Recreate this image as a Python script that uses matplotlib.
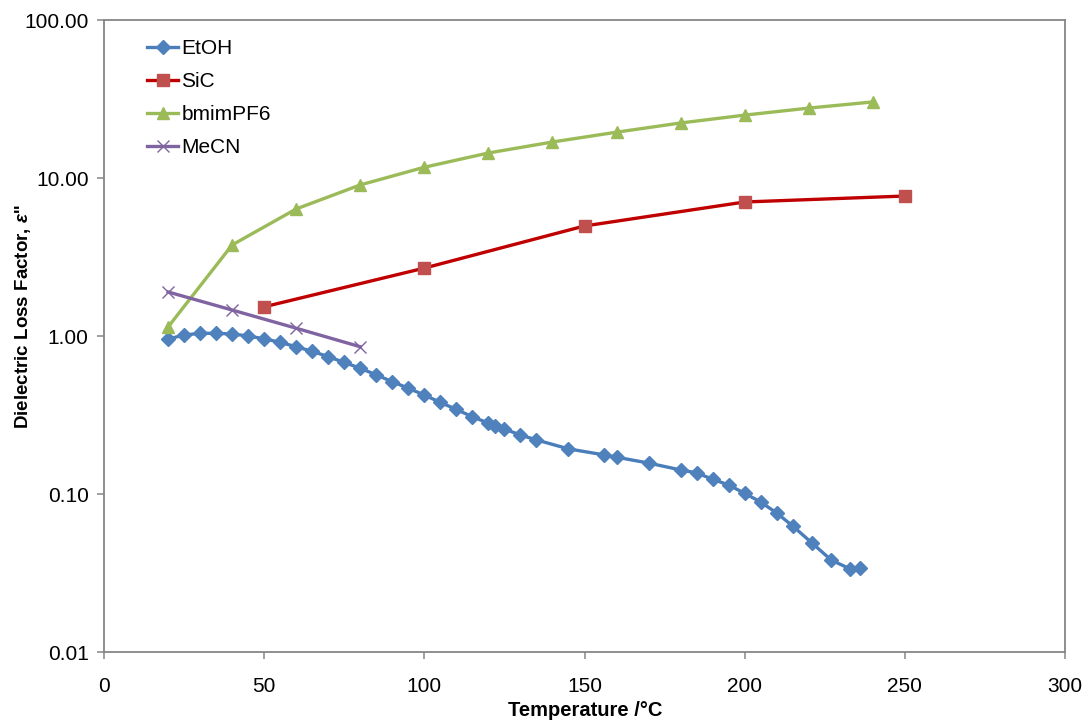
import matplotlib
matplotlib.use("Agg")
import matplotlib.pyplot as plt
from matplotlib.ticker import FixedLocator, NullLocator, FixedFormatter

plt.rcParams['font.family'] = ['Liberation Sans', 'DejaVu Sans']
plt.rcParams['mathtext.fontset'] = 'custom'
plt.rcParams['mathtext.it'] = 'Liberation Sans:italic:bold'

etoh_t = [20, 25, 30, 35, 40, 45, 50, 55, 60, 65, 70, 75, 80, 85, 90, 95, 100, 105,
          110, 115, 120, 122, 125, 130, 135, 145, 156, 160, 170, 180, 185, 190, 195,
          200, 205, 210, 215, 221, 227, 233, 236]
etoh_v = [0.957, 1.014, 1.04, 1.04, 1.03, 1.0, 0.96, 0.912, 0.855, 0.80, 0.74, 0.68,
          0.625, 0.567, 0.514, 0.467, 0.423, 0.38, 0.343, 0.308, 0.281, 0.269, 0.258,
          0.236, 0.220, 0.193, 0.177, 0.171, 0.157, 0.142, 0.136, 0.124, 0.114, 0.101,
          0.089, 0.0758, 0.0627, 0.049, 0.0382, 0.0335, 0.034]

sic_t = [50, 100, 150, 200, 250]
sic_v = [1.53, 2.69, 4.97, 7.05, 7.69]

bmim_t = [20, 40, 60, 80, 100, 120, 140, 160, 180, 200, 220, 240]
bmim_v = [1.14, 3.77, 6.37, 9.04, 11.7, 14.4, 16.9, 19.5, 22.3, 25.0, 27.7, 30.3]

mecn_t = [20, 40, 60, 80]
mecn_v = [1.90, 1.46, 1.12, 0.855]

y_ticks = [0.01, 0.1, 1, 10, 100]
y_tick_labels = ['0.01', '0.10', '1.00', '10.00', '100.00']
x_ticks = [0, 50, 100, 150, 200, 250, 300]

W, H = 1084, 726
fig = plt.figure(figsize=(W/100, H/100), dpi=100)
ax = fig.add_axes([104/W, 1 - 652/H, (1065-104)/W, (652-20)/H])

ax.plot(etoh_t, etoh_v, color='#4A7EBB', lw=2.4, marker='D', ms=7,
        mfc='#4F81BD', mec='#4F81BD', label='EtOH')
ax.plot(sic_t, sic_v, color='#C00000', lw=2.4, marker='s', ms=8.5,
        mfc='#C0504D', mec='#C0504D', label='SiC')
ax.plot(bmim_t, bmim_v, color='#9BBB59', lw=2.4, marker='^', ms=8.5,
        mfc='#9BBB59', mec='#9BBB59', label='bmimPF6')
ax.plot(mecn_t, mecn_v, color='#8064A2', lw=2.4, marker='x', ms=8,
        mew=1.0, mec='#8064A2', label='MeCN')

ax.set_yscale('log')
ax.set_ylim(0.01, 100)
ax.set_xlim(0, 300)
ax.yaxis.set_major_locator(FixedLocator(y_ticks))
ax.yaxis.set_major_formatter(FixedFormatter(y_tick_labels))
ax.yaxis.set_minor_locator(NullLocator())
ax.set_xticks(x_ticks)

for s in ax.spines.values():
    s.set_color('#868686')
    s.set_linewidth(1.3)
ax.tick_params(axis='both', direction='out', length=5, width=1.1, color='#868686',
               labelsize=15, labelcolor='black', pad=6)
ax.tick_params(axis='x', pad=13)

fig.text(585/W, 1 - 710/H, 'Temperature /°C', fontsize=14.5, fontweight='bold',
         ha='center', va='center')
fig.text(23/W, 1 - 316/H, "Dielectric Loss Factor, $\\varepsilon$''", fontsize=13.5,
         fontweight='bold', ha='center', va='center', rotation=90)

leg = ax.legend(loc='upper left', bbox_to_anchor=(0.0447, 0.970), frameon=False,
                fontsize=15, handlelength=1.5, labelspacing=0.67, handletextpad=0.15,
                borderaxespad=0.0, borderpad=0.0)

fig.savefig('out.png', dpi=100)
